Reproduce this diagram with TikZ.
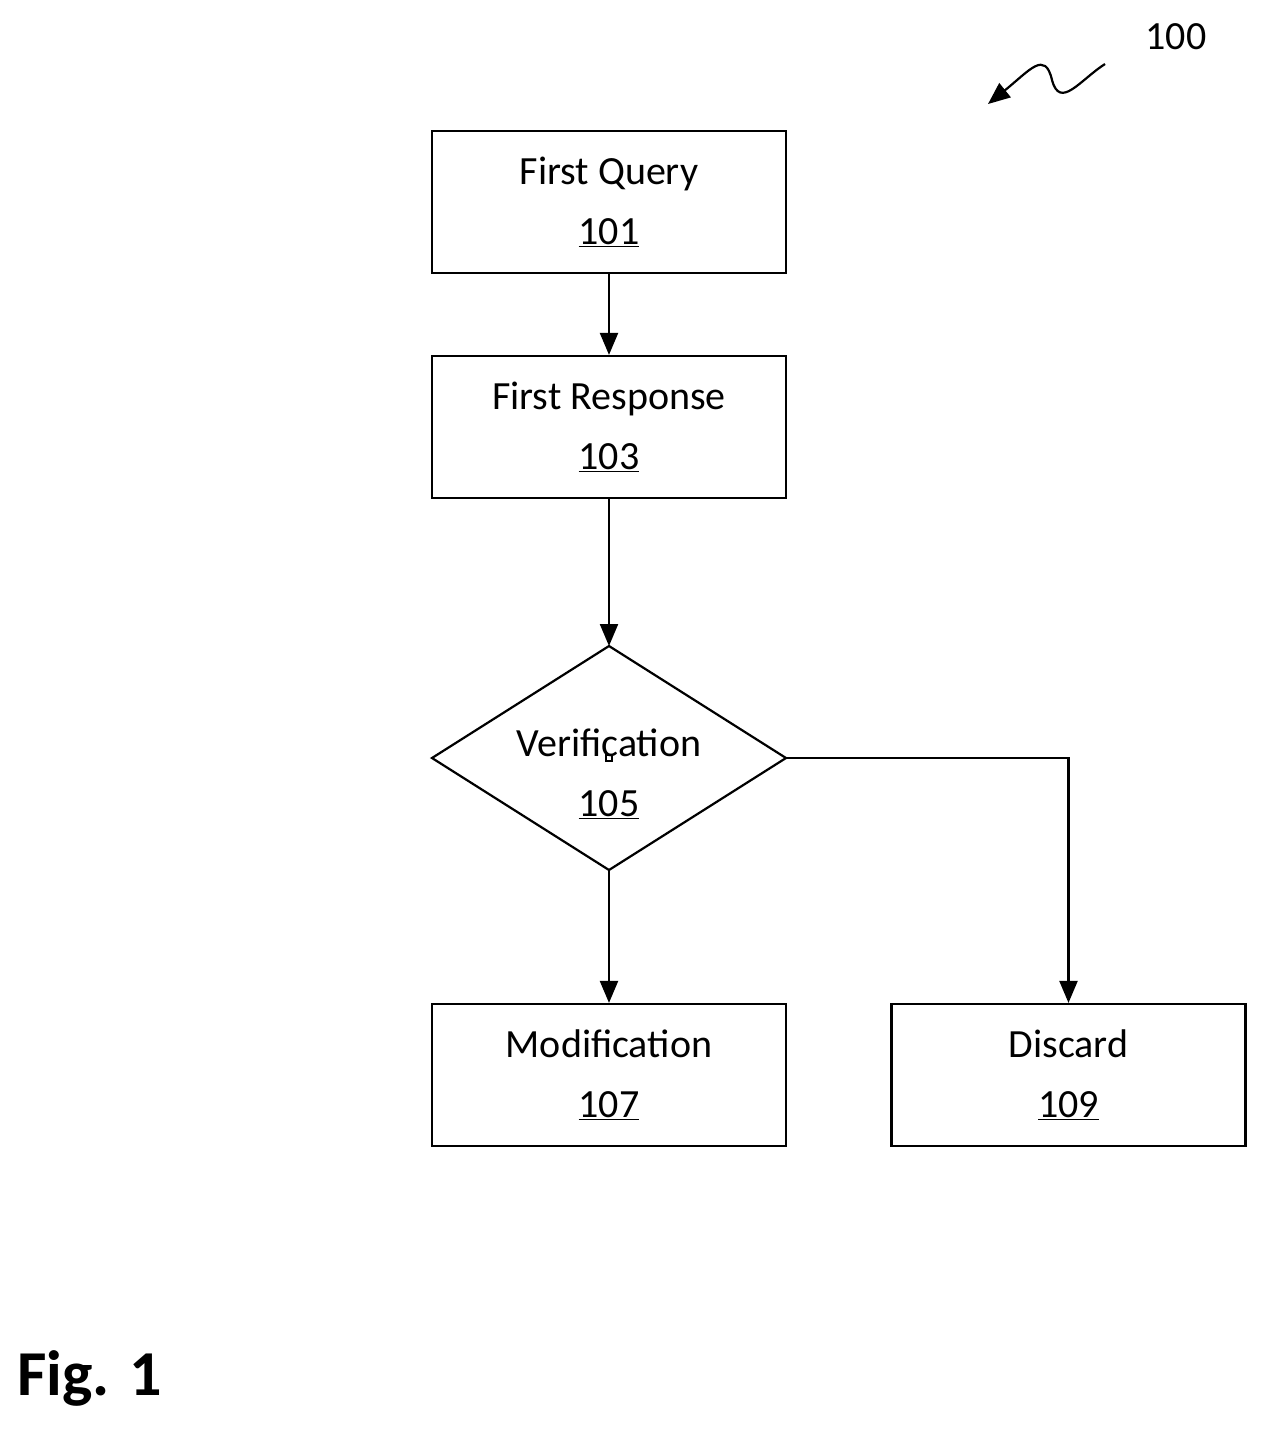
\documentclass[tikz,border=0pt]{standalone}
\usepackage{fontspec}
\setmainfont{Carlito}
\usetikzlibrary{shapes.geometric,arrows.meta}
\begin{document}
\begin{tikzpicture}[x=1pt,y=-1pt,
  box/.style={draw,line width=2.2pt,minimum width=354pt,minimum height=142pt,inner sep=0pt,align=center,font=\fontsize{40}{60}\selectfont},
  dia/.style={draw,line width=2.2pt,diamond,minimum width=354pt,minimum height=224pt,inner sep=0pt,align=center,font=\fontsize{40}{60}\selectfont,aspect=1.58},
  arr/.style={line width=2.2pt,-{Triangle[length=22pt,width=18pt]}}]
\useasboundingbox (0,0) rectangle (1268,1436);
\node[box] (q) at (609,202) {First Query\\\underline{101}};
\node[box] (r) at (609,427) {First Response\\\underline{103}};
\node[draw,line width=2.2pt] (v) at (609,758) {};
\path[draw,line width=2.2pt] (432,758) -- (609,646) -- (786,758) -- (609,870) -- cycle;
\node[align=center,font=\fontsize{40}{60}\selectfont] (vt) at (609,774) {Verification\\\underline{105}};
\coordinate (vtop) at (609,646);
\coordinate (vbot) at (609,870);
\coordinate (vright) at (786,758);
\node[box] (m) at (609,1075) {Modification\\\underline{107}};
\node[box] (d) at (1068.5,1075) {Discard\\\underline{109}};
\draw[arr] (q) -- (r);
\draw[arr] (r) -- (vtop);
\draw[arr] (vbot) -- (m);
\draw[arr] (vright) -| (d);
\node[font=\fontsize{40}{48}\selectfont] (n100) at (1176,37) {100};
\coordinate (s0) at (1105,64);
\coordinate (s1) at (988,104);
\draw[arr] (s0) .. controls (1080,80) and (1060,110) .. (1052,80) .. controls (1045,50) and (1030,70) .. (s1);
\node[font=\bfseries\fontsize{64}{70}\selectfont,anchor=west] (fig) at (14,1378) {Fig. 1};
\end{tikzpicture}
\end{document}
